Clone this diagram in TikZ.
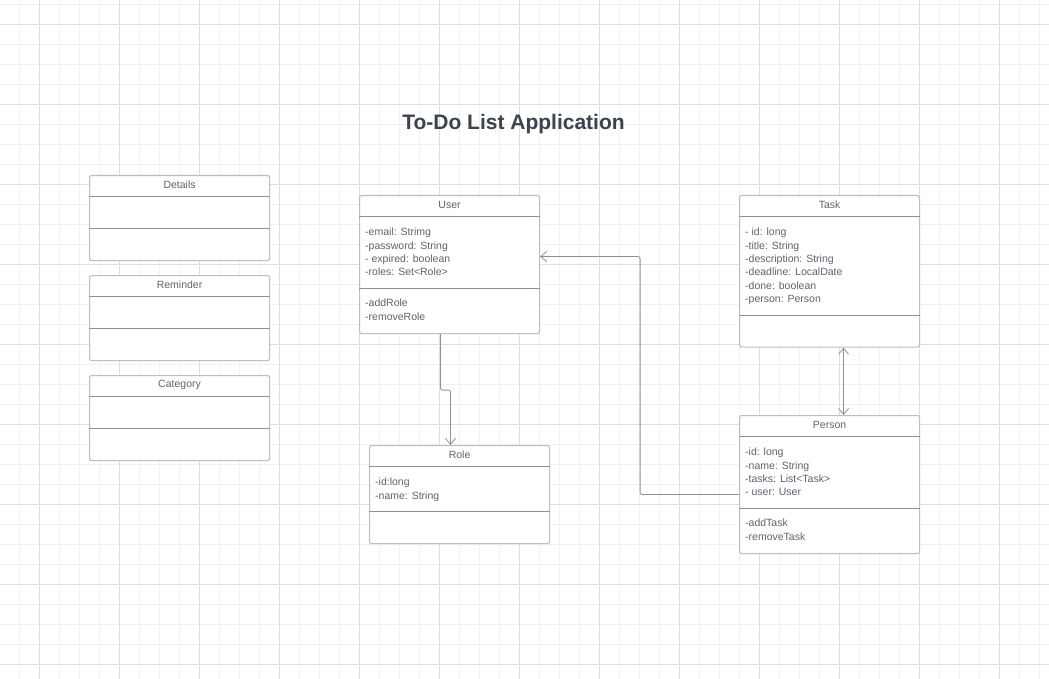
\documentclass[tikz,border=0pt]{standalone}
\usepackage{fontspec}
\setmainfont{Liberation Sans}
\usetikzlibrary{arrows.meta}

\definecolor{gridminor}{HTML}{F0F0F0}
\definecolor{gridmajor}{HTML}{DEDEDE}
\definecolor{boxline}{HTML}{BCBEC4}
\definecolor{divline}{HTML}{8E9198}
\definecolor{textgray}{HTML}{5E636B}
\definecolor{titlegray}{HTML}{3D434B}

\tikzset{
  classbox/.style={draw=boxline, line width=1.1pt, rounded corners=2pt,
    fill=white, minimum width=180pt, inner sep=0pt},
  classtitle/.style={font=\fontsize{10.5}{12}\selectfont, text=textgray, inner sep=0pt},
  divider/.style={draw=divline, line width=0.8pt},
  members/.style={font=\fontsize{10.5}{13.3}\selectfont, text=textgray,
    align=left, anchor=north west, inner sep=0pt},
  assoc/.style={draw=divline, line width=0.8pt, rounded corners=2pt},
  opentip/.style={-{Straight Barb[length=6pt,width=10pt,line width=0.8pt]}},
}

% #1 name, #2 top left, #3 height, #4 separator from top, #5 title, #6 attributes, #7 methods
\newcommand{\umlclass}[7]{%
  \node[classbox, minimum height=#3, anchor=north west] (#1) at #2 {};
  \node[classtitle] (#1-title) at ([yshift=-10pt]#1.north) {#5};
  \draw[divider] ([yshift=-21.5pt]#1.north west) -- ([yshift=-21.5pt]#1.north east);
  \coordinate (#1-sep) at ([yshift=-#4]#1.north west);
  \draw[divider] (#1-sep) -- (#1-sep -| #1.east);
  \node[members] (#1-attr) at ([xshift=6pt,yshift=-33pt]#1.north west) {#6};
  \node[members] (#1-ops) at ([xshift=6pt,yshift=-11pt]#1-sep) {#7};
}

\begin{document}
\begin{tikzpicture}[x=1pt,y=-1pt]
  \useasboundingbox (0,0) rectangle (1049,679);
  % Grid
  \fill[white] (0,0) rectangle (1049,679);
  \foreach \gx in {-0.5,19.5,...,1049} \draw[gridminor, line width=0.8pt] (\gx,0) -- (\gx,679);
  \foreach \gy in {4.5,24.5,...,679} \draw[gridminor, line width=0.8pt] (0,\gy) -- (1049,\gy);
  \foreach \gx in {39.5,119.5,...,1049} \draw[gridmajor, line width=0.9pt] (\gx,0) -- (\gx,679);
  \foreach \gy in {24.5,104.5,...,679} \draw[gridmajor, line width=0.9pt] (0,\gy) -- (1049,\gy);

  % Title
  \node[font=\bfseries\fontsize{21}{25}\selectfont, text=titlegray] (title) at (513.5,124) {To-Do List Application};

  % Empty classes
  \umlclass{details}{(89,175)}{85pt}{53pt}{Details}{}{}
  \umlclass{reminder}{(89,275)}{85pt}{53pt}{Reminder}{}{}
  \umlclass{category}{(89,375)}{85pt}{53pt}{Category}{}{}

  % Main classes
  \umlclass{user}{(359,195)}{138pt}{93pt}{User}
    {-email: Strimg\\-password: String\\- expired: boolean\\-roles: Set<Role>}
    {-addRole\\-removeRole}
  \umlclass{role}{(369,445)}{98pt}{66.5pt}{Role}
    {-id:long\\-name: String}{}
  \umlclass{task}{(739,195)}{151.5pt}{120.5pt}{Task}
    {- id: long\\-title: String\\-description: String\\-deadline: LocalDate\\-done: boolean\\-person: Person}{}
  \umlclass{person}{(739,415)}{138pt}{93pt}{Person}
    {-id: long\\-name: String\\-tasks: List<Task>\\- user: User}
    {-addTask\\-removeTask}

  % Associations
  \draw[assoc, opentip] ([xshift=-9pt]user.south) -- ++(0,56) -| ([xshift=-9pt]role.north);
  \draw[assoc, opentip] ([yshift=-10pt]person.west) -| ([xshift=100pt,yshift=8pt]user.east) -- ([yshift=8pt]user.east);
  \draw[assoc, {Straight Barb[length=6pt,width=10pt,line width=0.8pt]}-{Straight Barb[length=6pt,width=10pt,line width=0.8pt]}]
    ([xshift=14pt]task.south) -- ([xshift=14pt]person.north);
\end{tikzpicture}
\end{document}
